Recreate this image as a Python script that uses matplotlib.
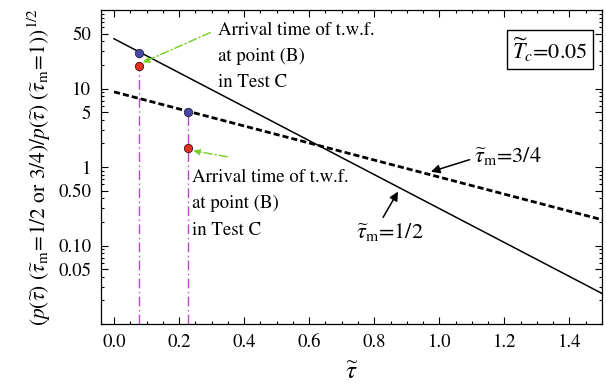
import matplotlib
matplotlib.use("Agg")

import matplotlib.pyplot as plt
from matplotlib.ticker import FixedLocator, MultipleLocator, LogLocator, NullFormatter

plt.rcParams["font.family"] = ["STIXGeneral", "DejaVu Serif"]
plt.rcParams["mathtext.fontset"] = "stix"

# Data
tau_line = [0.0, 1.5]
ratio_half = [43.0, 0.0245]      # tau_m = 1/2 (solid)
ratio_three_q = [9.06, 0.213]    # tau_m = 3/4 (dashed)

tau_arrival = [0.078, 0.227]
blue_vals = [28.0, 4.97]
red_vals = [19.6, 1.77]

y_ticks = [0.05, 0.10, 0.50, 1, 5, 10, 50]
y_tick_labels = ["0.05", "0.10", "0.50", "1", "5", "10", "50"]
x_ticks = [0.0, 0.2, 0.4, 0.6, 0.8, 1.0, 1.2, 1.4]

fig = plt.figure(figsize=(6.06, 3.86), dpi=100)
ax = fig.add_axes([0.1667, 0.1606, 0.8267, 0.8135])

ax.set_yscale("log")
ax.set_xlim(-0.04, 1.5)
ax.set_ylim(0.01, 100)

# vertical markers for arrival times
for t, v in zip(tau_arrival, blue_vals):
    ax.plot([t, t], [0.01, v], color="#b848c8", lw=1.0, ls=(0, (7, 2.5, 1, 2.5)), zorder=2)

ax.plot(tau_line, ratio_half, color="black", lw=1.1, zorder=3)
ax.plot(tau_line, ratio_three_q, color="black", lw=2.0, ls=(0, (2.2, 1.1)), zorder=3)

ax.plot(tau_arrival, blue_vals, "o", ms=6, mfc="#4848a8", mec="#202040", mew=0.6, zorder=5)
ax.plot(tau_arrival, red_vals, "o", ms=6, mfc="#e03020", mec="#401010", mew=0.6, zorder=5)

# arrival-time annotations
green = "#70d020"
ax.text(0.32, 25.5, "Arrival time of t.w.f.\nat point (B)\nin Test C", fontsize=13.5,
        va="center", ha="left", linespacing=1.68)
ax.annotate("", xy=(0.0885, 21.5), xytext=(0.296, 51.6),
            arrowprops=dict(arrowstyle="-|>", color=green, lw=1.0, ls=(0, (6, 2, 1, 2)),
                            shrinkA=0, shrinkB=0, mutation_scale=9))
ax.text(0.241, 0.34, "Arrival time of t.w.f.\nat point (B)\nin Test C", fontsize=13.5,
        va="center", ha="left", linespacing=1.68)
ax.annotate("", xy=(0.244, 1.61), xytext=(0.348, 1.35),
            arrowprops=dict(arrowstyle="-|>", color=green, lw=1.0, ls=(0, (6, 2, 1, 2)),
                            shrinkA=0, shrinkB=0, mutation_scale=9))

# curve labels
ax.annotate("", xy=(0.974, 0.87), xytext=(1.093, 1.24),
            arrowprops=dict(arrowstyle="-|>", color="black", lw=1.1,
                            shrinkA=0, shrinkB=0, mutation_scale=13))
ax.text(1.105, 1.40, r"$\widetilde{\tau}_{\rm m}$=3/4", fontsize=16, va="center", ha="left")
ax.annotate("", xy=(0.873, 0.486), xytext=(0.827, 0.228),
            arrowprops=dict(arrowstyle="-|>", color="black", lw=1.1,
                            shrinkA=0, shrinkB=0, mutation_scale=13))
ax.text(0.745, 0.150, r"$\widetilde{\tau}_{\rm m}$=1/2", fontsize=16, va="center", ha="left")

ax.text(0.896, 0.873, r"$\widetilde{T}_c$=0.05", transform=ax.transAxes, fontsize=16,
        ha="center", va="center",
        bbox=dict(boxstyle="square,pad=0.25", facecolor="white", edgecolor="black", lw=1.0))

# axes styling
ax.xaxis.set_major_locator(FixedLocator(x_ticks))
ax.xaxis.set_minor_locator(MultipleLocator(0.05))
ax.yaxis.set_major_locator(FixedLocator(y_ticks))
ax.set_yticklabels(y_tick_labels)
ax.yaxis.set_minor_locator(LogLocator(base=10, subs=range(1, 10)))
ax.yaxis.set_minor_formatter(NullFormatter())
ax.set_xticklabels([f"{t:.1f}" for t in x_ticks])

ax.tick_params(which="both", direction="in", top=True, right=True, labelsize=13.5, width=0.8)
ax.tick_params(which="major", length=5, pad=7)
ax.tick_params(which="minor", length=2.5)
for s in ax.spines.values():
    s.set_linewidth(0.9)

ax.set_xlabel(r"$\widetilde{\tau}$", fontsize=18, labelpad=7)
ax.set_ylabel(r"$(p(\widetilde{\tau})\ (\widetilde{\tau}_{\rm m}\!=\!1/2$ or $3/4)/p(\widetilde{\tau})\ (\widetilde{\tau}_{\rm m}\!=\!1))^{1/2}$",
              fontsize=15.5, labelpad=4)

fig.savefig("out.png", dpi=100)
